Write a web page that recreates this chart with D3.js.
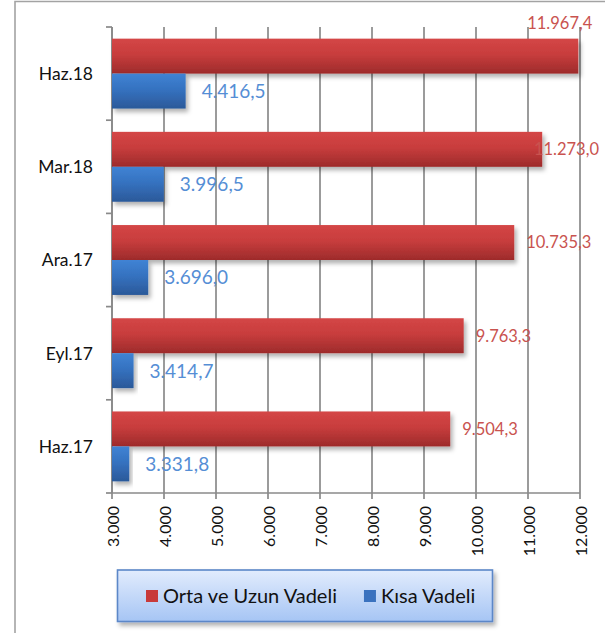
<!DOCTYPE html>
<html>
<head>
<meta charset="utf-8">
<script src="https://cdn.jsdelivr.net/npm/d3@7/dist/d3.min.js"></script>
<style>
  html, body { margin: 0; padding: 0; background: #ffffff; }
  svg { display: block; font-family: Lato, "Open Sans", sans-serif; }
</style>
</head>
<body>
<svg id="chart" width="606" height="633"></svg>
<script>
// Quarterly periods, top to bottom
const categories = ["Haz.18", "Mar.18", "Ara.17", "Eyl.17", "Haz.17"];
const seriesNames = ["Orta ve Uzun Vadeli", "Kısa Vadeli"];
const ortaUzunVadeli = [11967.4, 11273.0, 10735.3, 9763.3, 9504.3];
const kisaVadeli = [4416.5, 3996.5, 3696.0, 3414.7, 3331.8];
const xTicks = [3000, 4000, 5000, 6000, 7000, 8000, 9000, 10000, 11000, 12000];

const svg = d3.select("#chart");
const W = 606, H = 633;
const plot = { left: 112, right: 580, top: 27, bottom: 493 };

// Turkish number formatting: "." thousands, "," decimal
const trLocale = d3.formatLocale({ decimal: ",", thousands: ".", grouping: [3], currency: ["", " TL"] });
const fmtTick = trLocale.format(",.0f");
const fmtVal = trLocale.format(",.1f");

const x = d3.scaleLinear().domain([3000, 12000]).range([plot.left, plot.right]);
const y = d3.scaleBand().domain(categories).range([plot.top, plot.bottom])
  .paddingInner(0.25).paddingOuter(0.125);
const ySeries = d3.scaleBand().domain(seriesNames).range([0, y.bandwidth()]);

const colors = {
  "Orta ve Uzun Vadeli": { top: "#d44646", mid: "#c83d3d", bottom: "#9d2b2b", label: "#c9534f", swatch: "#c83a3a" },
  "Kısa Vadeli": { top: "#4083d4", mid: "#3572c0", bottom: "#2b5999", label: "#558ed5", swatch: "#3a72bf" }
};

const defs = svg.append("defs");
seriesNames.forEach((name, i) => {
  const g = defs.append("linearGradient").attr("id", "grad" + i)
    .attr("x1", 0).attr("y1", 0).attr("x2", 0).attr("y2", 1);
  g.append("stop").attr("offset", "0%").attr("stop-color", colors[name].top);
  g.append("stop").attr("offset", "45%").attr("stop-color", colors[name].mid);
  g.append("stop").attr("offset", "100%").attr("stop-color", colors[name].bottom);
});
const shadow = defs.append("filter").attr("id", "barShadow")
  .attr("x", "-10%").attr("y", "-30%").attr("width", "130%").attr("height", "180%");
shadow.append("feDropShadow").attr("dx", 2.5).attr("dy", 3.5)
  .attr("stdDeviation", 2.2).attr("flood-color", "#000").attr("flood-opacity", 0.3);
const legGrad = defs.append("linearGradient").attr("id", "legGrad")
  .attr("x1", 0).attr("y1", 0).attr("x2", 0).attr("y2", 1);
legGrad.append("stop").attr("offset", "0%").attr("stop-color", "#e2ecfd");
legGrad.append("stop").attr("offset", "100%").attr("stop-color", "#a6c5f4");

// Outer frame (top and left edges)
svg.append("path")
  .attr("d", `M15,${H} L15,1.5 L${W - 1},1.5`)
  .attr("fill", "none").attr("stroke", "#a3a3a3").attr("stroke-width", 1.6);

// Vertical gridlines
svg.append("g").selectAll("line").data(xTicks).join("line")
  .attr("x1", d => x(d)).attr("x2", d => x(d))
  .attr("y1", plot.top).attr("y2", plot.bottom)
  .attr("stroke", "#8a8a8a").attr("stroke-width", 1.7);

// Category axis with ticks at band boundaries
const catTicks = [plot.top].concat(categories.slice(1).map(c => y(c) - y.step() * y.paddingInner() / 2), [plot.bottom]);
const axisG = svg.append("g").attr("stroke", "#8a8a8a").attr("stroke-width", 1.7);
axisG.append("line").attr("x1", plot.left).attr("x2", plot.left).attr("y1", plot.top).attr("y2", plot.bottom);
axisG.selectAll("line.ct").data(catTicks).join("line").attr("class", "ct")
  .attr("x1", plot.left - 6).attr("x2", plot.left).attr("y1", d => d).attr("y2", d => d);
// Value axis line with ticks
axisG.append("line").attr("x1", plot.left).attr("x2", plot.right).attr("y1", plot.bottom).attr("y2", plot.bottom);
axisG.selectAll("line.vt").data(xTicks).join("line").attr("class", "vt")
  .attr("x1", d => x(d)).attr("x2", d => x(d)).attr("y1", plot.bottom).attr("y2", plot.bottom + 6);

// Category labels
svg.append("g").selectAll("text").data(categories).join("text")
  .attr("x", 93).attr("y", d => y(d) + y.bandwidth() / 2)
  .attr("dy", "0.36em").attr("text-anchor", "end")
  .attr("font-size", 17.5).attr("fill", "#111")
  .text(d => d);

// Value tick labels (rotated)
svg.append("g").selectAll("text").data(xTicks).join("text")
  .attr("transform", d => `translate(${x(d)},${plot.bottom + 13}) rotate(-90)`)
  .attr("dy", "0.42em").attr("text-anchor", "end")
  .attr("font-size", 16).attr("fill", "#111")
  .text(d => fmtTick(d));

// Bars
const rows = categories.map((c, i) => ({
  category: c,
  values: [
    { series: seriesNames[0], value: ortaUzunVadeli[i], idx: 0 },
    { series: seriesNames[1], value: kisaVadeli[i], idx: 1 }
  ]
}));
const barG = svg.append("g");
rows.forEach(r => {
  r.values.forEach(v => {
    barG.append("rect")
      .attr("x", x(3000))
      .attr("y", y(r.category) + ySeries(v.series))
      .attr("width", x(v.value) - x(3000))
      .attr("height", ySeries.bandwidth())
      .attr("fill", `url(#grad${v.idx})`)
      .attr("filter", "url(#barShadow)");
  });
});

// Value labels
const labelG = svg.append("g");
const rightLimit = W - 7;
rows.forEach(r => {
  r.values.forEach(v => {
    const size = v.idx === 0 ? 16.5 : 19;
    const barEnd = x(v.value);
    const by = y(r.category) + ySeries(v.series);
    const t = labelG.append("text")
      .attr("font-size", size).attr("fill", colors[v.series].label)
      .text(fmtVal(v.value));
    const w = t.node().getComputedTextLength();
    let lx = barEnd + (v.idx === 0 ? 12 : 16);
    let ly = by + ySeries.bandwidth() / 2;
    if (lx + w > rightLimit) {
      lx = rightLimit - w;
      if (barEnd - lx > 20) {
        // no room beside the bar: place it above the bar end
        lx = Math.min(barEnd + 14, rightLimit) - w;
        ly = by - 16;
      }
    }
    t.attr("x", lx).attr("y", ly).attr("dy", "0.36em");
  });
});

// Legend
const leg = { x: 117.5, y: 570, w: 375, h: 51.5 };
const legG = svg.append("g");
legG.append("rect")
  .attr("x", leg.x).attr("y", leg.y).attr("width", leg.w).attr("height", leg.h)
  .attr("fill", "url(#legGrad)").attr("stroke", "#5b87c8").attr("stroke-width", 1.6)
  .attr("filter", "url(#barShadow)");
let cx = leg.x + 28.5;
seriesNames.forEach((name, i) => {
  legG.append("rect").attr("x", cx).attr("y", leg.y + 20).attr("width", 12).attr("height", 12)
    .attr("fill", colors[name].swatch);
  const t = legG.append("text").attr("x", cx + 17).attr("y", leg.y + 26).attr("dy", "0.36em")
    .attr("font-size", 20).attr("fill", "#111").text(name);
  cx += 17 + t.node().getComputedTextLength() + 27;
});
</script>
</body>
</html>
